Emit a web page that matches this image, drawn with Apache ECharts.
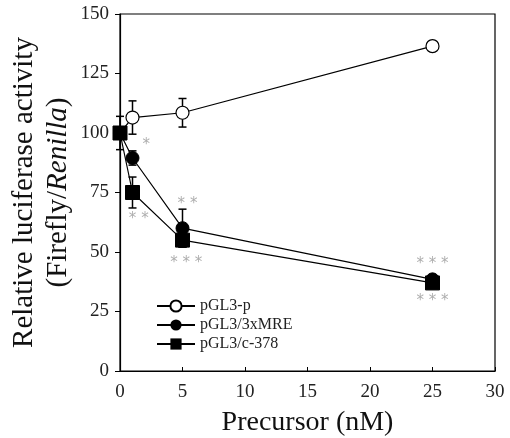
<!DOCTYPE html>
<html>
<head>
<meta charset="utf-8">
<script src="https://cdn.jsdelivr.net/npm/echarts@6/dist/echarts.min.js"></script>
<style>
  html, body { margin: 0; padding: 0; background: #fff; }
  #chart { width: 510px; height: 438px; }
</style>
</head>
<body>
<div id="chart"></div>
<script>
// precursor concentration (nM)
const doses = [0, 1, 5, 25]

const seriesNames = ['pGL3-p', 'pGL3/3xMRE', 'pGL3/c-378']
const pGL3p = [100, 106.5, 108.5, 136.5]
const pGL3pErr = [0, 7, 6, 2]
const mre = [100, 89.5, 60, 38.5]
const mreErr = [0, 3, 8, 1.5]
const c378 = [100, 75, 55, 37]
const c378Err = [7, 6.5, 3, 1.5]

const yTicks = [0, 25, 50, 75, 100, 125, 150]
const xTicks = [0, 5, 10, 15, 20, 25, 30]

// significance marks: [x, y, text]
const marks = [
  [2.1, 95, '*'],
  [1.5, 64, '* *'],
  [5.4, 70, '* *'],
  [5.3, 45.5, '* * *'],
  [25, 45, '* * *'],
  [25, 29.5, '* * *'],
]

const serif = '"Liberation Serif", "DejaVu Serif", serif'

function pairs(vals) {
  return doses.map((d, i) => [d, vals[i]])
}

function errData(vals, errs) {
  return doses.map((d, i) => [d, vals[i] - errs[i], vals[i] + errs[i]])
}

// draw I-shaped error bars
function errorBar(params, api) {
  const x = api.value(0)
  const lo = api.coord([x, api.value(1)])
  const hi = api.coord([x, api.value(2)])
  const w = 4
  const style = { stroke: '#000', lineWidth: 1.5 }
  return {
    type: 'group',
    children: [
      { type: 'line', shape: { x1: lo[0], y1: lo[1], x2: hi[0], y2: hi[1] }, style },
      { type: 'line', shape: { x1: lo[0] - w, y1: lo[1], x2: lo[0] + w, y2: lo[1] }, style },
      { type: 'line', shape: { x1: hi[0] - w, y1: hi[1], x2: hi[0] + w, y2: hi[1] }, style },
    ],
  }
}

function errSeries(vals, errs) {
  return {
    type: 'custom',
    renderItem: errorBar,
    data: errData(vals, errs),
    encode: { x: 0, y: [1, 2] },
    z: 1,
    silent: true,
  }
}

const lineBase = {
  type: 'line',
  lineStyle: { color: '#000', width: 1.2 },
  z: 3,
}

const chart = echarts.init(document.getElementById('chart'), null, { renderer: 'canvas' })

chart.setOption({
  animation: false,
  backgroundColor: '#fff',
  grid: {
    left: 120, right: 15, top: 14, bottom: 67,
    outerBoundsMode: 'none',
    show: true, borderColor: '#000', borderWidth: 1.2,
  },
  legend: {
    orient: 'vertical',
    left: 151, top: 293,
    itemWidth: 38, itemHeight: 14, itemGap: 3,
    data: seriesNames,
    textStyle: { fontFamily: serif, fontSize: 16, color: '#222' },
  },
  xAxis: {
    type: 'value',
    min: 0, max: 30, interval: 5,
    name: 'Precursor (nM)',
    nameLocation: 'middle',
    nameGap: 38,
    nameMoveOverlap: false,
    nameTextStyle: { fontFamily: serif, fontSize: 28, color: '#111' },
    axisLine: { lineStyle: { color: '#000', width: 1.2 } },
    axisTick: { inside: true, length: 4, lineStyle: { color: '#000' } },
    axisLabel: {
      fontFamily: serif, fontSize: 19, color: '#222', margin: 12,
      formatter: v => xTicks.includes(v) ? String(v) : '',
    },
    splitLine: { show: false },
  },
  yAxis: {
    type: 'value',
    min: 0, max: 150, interval: 25,
    name: '{a|Relative luciferase activity}\n{a|(Firefly/}{i|Renilla}{a|)}',
    nameLocation: 'middle',
    nameGap: 45,
    nameMoveOverlap: false,
    nameRotate: 90,
    nameTextStyle: {
      rich: {
        a: { fontFamily: serif, fontSize: 29, color: '#111', lineHeight: 34 },
        i: { fontFamily: serif, fontSize: 29, color: '#111', lineHeight: 34, fontStyle: 'italic' },
      },
    },
    axisLine: { lineStyle: { color: '#000', width: 1.2 } },
    axisTick: { length: 5, lineStyle: { color: '#000' } },
    axisLabel: {
      fontFamily: serif, fontSize: 19, color: '#222', margin: 11,
      formatter: v => yTicks.includes(v) ? String(v) : '',
    },
    splitLine: { show: false },
  },
  series: [
    errSeries(pGL3p, pGL3pErr),
    errSeries(mre, mreErr),
    errSeries(c378, c378Err),
    Object.assign({}, lineBase, {
      name: seriesNames[0],
      data: pairs(pGL3p),
      symbol: 'circle', symbolSize: 13,
      itemStyle: { color: '#fff', borderColor: '#000', borderWidth: 1.2 },
    }),
    Object.assign({}, lineBase, {
      name: seriesNames[1],
      data: pairs(mre),
      symbol: 'circle', symbolSize: 13,
      itemStyle: { color: '#000', borderColor: '#000' },
    }),
    Object.assign({}, lineBase, {
      name: seriesNames[2],
      data: pairs(c378),
      symbol: 'rect', symbolSize: 14,
      itemStyle: { color: '#000', borderColor: '#000' },
    }),
    {
      type: 'scatter',
      data: marks.map(m => ({ value: [m[0], m[1]], text: m[2] })),
      symbolSize: 1,
      itemStyle: { color: 'rgba(0,0,0,0)' },
      label: {
        show: true, position: 'inside',
        formatter: p => p.data.text,
        fontFamily: '"DejaVu Sans", sans-serif', fontSize: 15, color: '#999',
      },
      silent: true,
      z: 4,
    },
  ],
})
</script>
</body>
</html>
